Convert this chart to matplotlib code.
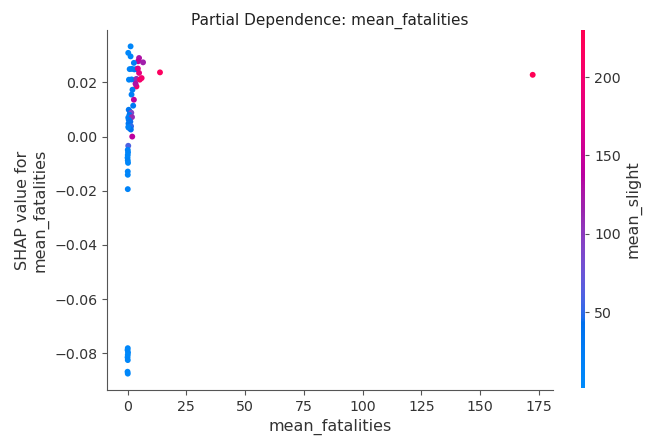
import numpy as np
import matplotlib
matplotlib.use("Agg")
import matplotlib.pyplot as plt
from matplotlib.colors import LinearSegmentedColormap, Normalize

# ---- data ----
mean_fatalities = [
    1.3, 0.3, 1.3, 4.9, 4.5, 6.6, 2.7,
    0.9, 1.8, 2.9, 3.8, 4.4, 4.9, 13.8,
    0.6, 1.7, 3.1, 3.8, 6.0, 5.2, 3.8, 3.4,
    2.1, 1.7, 2.7, 2.4,
    0.5, 1.0, 1.6, 0.8, 0.3, 1.9, 0.5, 1.2, 0.4, 0.9, 1.5, 0.6, 1.4, 0.3,
    2.0, 0.3,
    0.1, 0.2, 0.1, 0.0, 0.1, 0.2,
    0.1, 0.1, 0.1,
    0.1, 0.0, 0.2, 0.1, 0.0, 0.1,
    0.0, 0.1,
    172.3,
]
shap_values = [
    0.0333, 0.0309, 0.0296, 0.0290, 0.0278, 0.0274, 0.0272,
    0.0249, 0.0250, 0.0248, 0.0249, 0.0251, 0.0235, 0.0237,
    0.0210, 0.0211, 0.0209, 0.0213, 0.0216, 0.0210, 0.0185, 0.0195,
    0.0173, 0.0155, 0.0136, 0.0114,
    0.0099, 0.0092, 0.0088, 0.0080, 0.0070, 0.0072, 0.0062, 0.0055, 0.0048, 0.0042, 0.0038, 0.0032, 0.0026, 0.0035,
    0.0000, -0.0034,
    -0.0049, -0.0058, -0.0068, -0.0078, -0.0088, -0.0097,
    -0.0129, -0.0141, -0.0194,
    -0.0781, -0.0788, -0.0797, -0.0806, -0.0815, -0.0825,
    -0.0868, -0.0875,
    0.0228,
]
mean_slight = [
    10, 8, 12, 130, 140, 120, 20,
    15, 18, 22, 25, 170, 180, 215,
    12, 20, 28, 110, 200, 205, 200, 130,
    25, 20, 140, 30,
    30, 40, 90, 35, 20, 110, 25, 45, 30, 35, 50, 20, 40, 15,
    140, 60,
    15, 12, 10, 8, 14, 10,
    12, 10, 15,
    8, 6, 10, 5, 7, 9,
    6, 8,
    225,
]
color_ticks = [50, 100, 150, 200]

# ---- SHAP-like red_blue colormap (LCH interpolation) ----
def lab_to_rgb(L, a, b):
    fy = (L + 16.0) / 116.0
    fx = a / 500.0 + fy
    fz = fy - b / 200.0
    def finv(t):
        return t ** 3 if t > 0.2068966 else (t - 16.0 / 116.0) / 7.787
    X, Y, Z = 0.95047 * finv(fx), 1.0 * finv(fy), 1.08883 * finv(fz)
    M = np.array([[3.2406, -1.5372, -0.4986],
                  [-0.9689, 1.8758, 0.0415],
                  [0.0557, -0.2040, 1.0570]])
    rgb = M @ np.array([X, Y, Z])
    out = []
    for v in rgb:
        v = 1.055 * v ** (1 / 2.4) - 0.055 if v > 0.0031308 else 12.92 * v
        out.append(min(max(v, 0.0), 1.0))
    return out

blue_lch = [54.0, 70.0, 4.6588]
red_lch = [54.0, 90.0, 0.35470565 + 2 * np.pi]
l_mid = 40.0
nsteps = 100
l_vals = list(np.linspace(blue_lch[0], l_mid, nsteps // 2)) + list(np.linspace(l_mid, red_lch[0], nsteps // 2))
c_vals = np.linspace(blue_lch[1], red_lch[1], nsteps)
h_vals = np.linspace(blue_lch[2], red_lch[2], nsteps)
cols = [lab_to_rgb(l, c * np.cos(h), c * np.sin(h)) for l, c, h in zip(l_vals, c_vals, h_vals)]
red_blue = LinearSegmentedColormap.from_list("red_blue", cols)

# ---- figure ----
fig = plt.figure(figsize=(6.49, 4.38), dpi=100)
ax = fig.add_axes([0.1653, 0.1096, 0.6867, 0.8219])
cax = fig.add_axes([0.8952, 0.1142, 0.0062, 0.8174])

norm = Normalize(vmin=1.7, vmax=230)
sc = ax.scatter(mean_fatalities, shap_values, c=mean_slight, cmap=red_blue, norm=norm,
                s=18, linewidths=0, alpha=1)

txt = "#333333"
for s in ["top", "right"]:
    ax.spines[s].set_visible(False)
for s in ["left", "bottom"]:
    ax.spines[s].set_color("#555555")
ax.tick_params(colors=txt, labelsize=10.2, color="#555555")
ax.set_xticks([0, 25, 50, 75, 100, 125, 150, 175])
ax.set_yticks([-0.08, -0.06, -0.04, -0.02, 0.00, 0.02])
ax.set_xlabel("mean_fatalities", fontsize=11.5, color=txt)
ax.set_ylabel("SHAP value for\nmean_fatalities", fontsize=11.5, color=txt)
ax.set_title("Partial Dependence: mean_fatalities", fontsize=11, color="#222222", pad=4)

cb = fig.colorbar(sc, cax=cax, ticks=color_ticks)
cb.outline.set_visible(False)
cb.ax.tick_params(labelsize=10.2, colors=txt, length=3, color="#555555")
cb.set_label("mean_slight", fontsize=11.5, color=txt, labelpad=3)

fig.savefig("out.png", dpi=100)
